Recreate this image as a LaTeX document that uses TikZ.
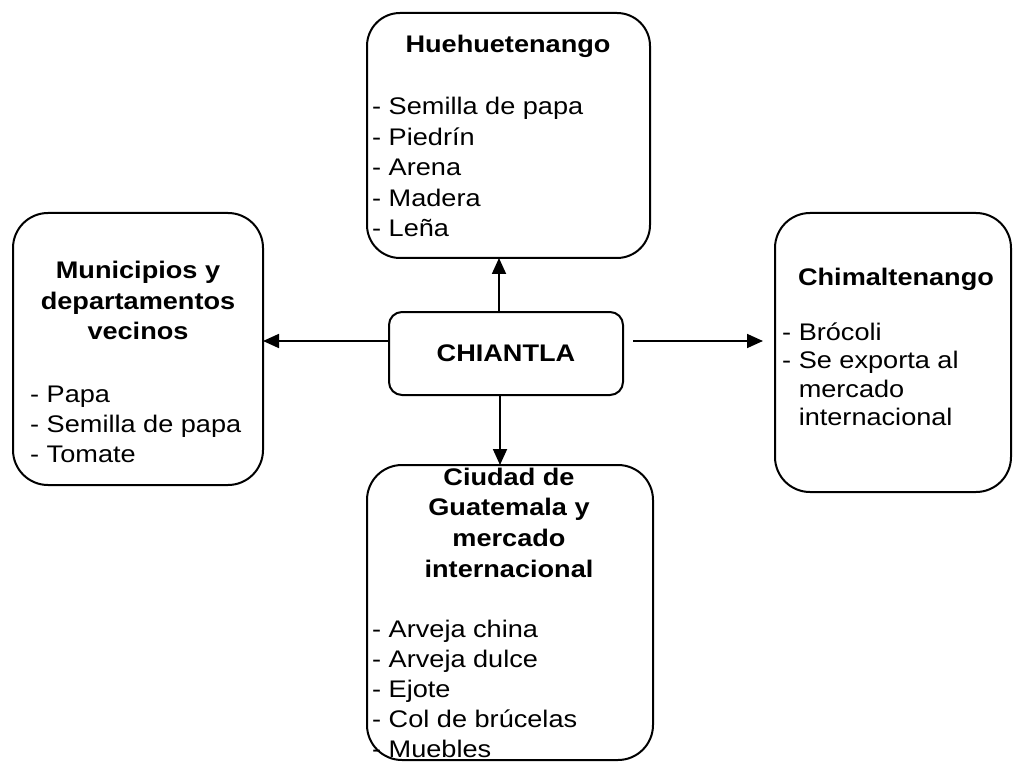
\documentclass[tikz,border=0pt]{standalone}
\usepackage{fontspec}
\setmainfont{Liberation Sans}[FakeStretch=1.13]
\usetikzlibrary{arrows.meta,calc}
\tikzset{
  box/.style={draw, line width=2pt, inner sep=0pt, outer sep=0pt},
  arr/.style={line width=1.8pt, -{Triangle[length=16pt,width=14pt]}},
  head/.style={anchor=base, inner sep=0pt, font=\fontsize{24}{30}\selectfont\bfseries},
  item/.style={anchor=base west, inner sep=0pt, font=\fontsize{24}{30}\selectfont},
}
\begin{document}
\begin{tikzpicture}[x=1pt,y=-1pt]
\useasboundingbox (0,0) rectangle (1015,762);
% boxes
\node[box, rounded corners=33pt, minimum width=283pt, minimum height=245pt] (hue) at (508.5,135.5) {};
\node[box, rounded corners=35pt, minimum width=250pt, minimum height=272pt] (mun) at (138,349) {};
\node[box, rounded corners=13pt, minimum width=234pt, minimum height=83pt] (chi) at (506,353.5) {};
\node[box, rounded corners=35pt, minimum width=236pt, minimum height=279pt] (chim) at (893,352.5) {};
\node[box, rounded corners=35pt, minimum width=286pt, minimum height=295pt] (ciu) at (510,612.5) {};
% texts
\node[head] (t1) at (508,53) {Huehuetenango};
\foreach \t/\y [count=\i] in {Semilla de papa/115, Piedrín/145.5, Arena/176, Madera/206.5, Leña/237}
  \node[item] (h\i) at (372,\y) {- \t};
\node[head] (m1) at (138,279) {Municipios y};
\node[head] (m2) at (138,309) {departamentos};
\node[head] (m3) at (138,339) {vecinos};
\foreach \t/\y [count=\i] in {Papa/402, Semilla de papa/432, Tomate/462}
  \node[item] (mi\i) at (30,\y) {- \t};
\node[head] (c0) at (506,361) {CHIANTLA};
\node[head] (ch1) at (896,285) {Chimaltenango};
\node[item] (ci1) at (782,340) {- Brócoli};
\node[item] (ci2) at (782,368.5) {- Se exporta al};
\node[item] (ci3) at (782,397) {\phantom{- }mercado};
\node[item] (ci4) at (782,425.5) {\phantom{- }internacional};
\node[head] (g1) at (509,485) {Ciudad de};
\node[head] (g2) at (509,515) {Guatemala y};
\node[head] (g3) at (509,546) {mercado};
\node[head] (g4) at (509,577) {internacional};
\foreach \t/\y [count=\i] in {Arveja china/637, Arveja dulce/667, Ejote/697, Col de brúcelas/727, Muebles/757}
  \node[item] (gi\i) at (372,\y) {- \t};
% arrows
\coordinate (up) at ([xshift=-7pt]chi.north);
\draw[arr] (up) -- (up |- hue.south);
\coordinate (dn) at ([xshift=-6pt]chi.south);
\draw[arr] (dn) -- (dn |- ciu.north);
\coordinate (lf) at ([yshift=12.5pt]chi.west);
\draw[arr] (lf) -- (lf -| mun.east);
\coordinate (rt) at ([yshift=12.5pt]chi.east);
\draw[arr] ($(rt)+(10,0)$) -- ($(rt -| chim.west)+(-12,0)$);
\end{tikzpicture}
\end{document}
